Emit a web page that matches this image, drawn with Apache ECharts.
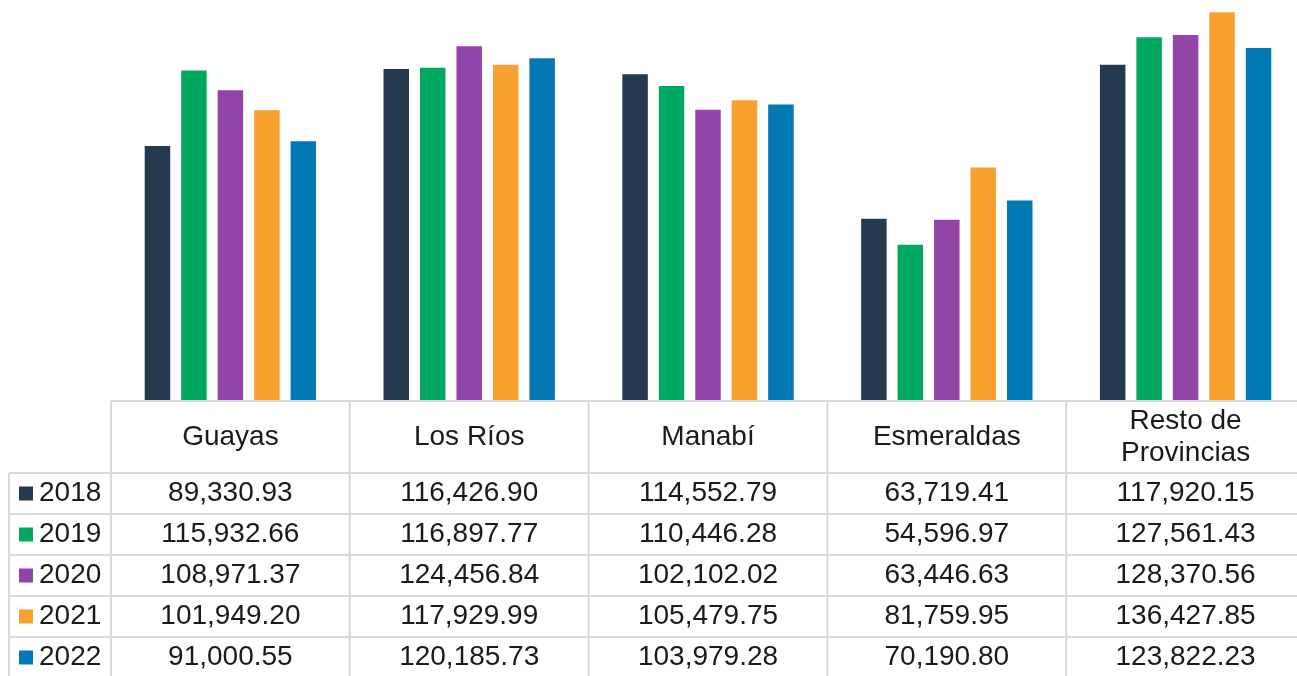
<!DOCTYPE html>
<html lang="es">
<head>
<meta charset="UTF-8">
<title>Provincias</title>
<script src="https://cdn.jsdelivr.net/npm/echarts@6/dist/echarts.min.js"></script>
<style>
  html, body { margin: 0; padding: 0; background: #fff; }
</style>
</head>
<body>
<div id="main" style="width:1297px;height:676px;"></div>
<script type="text/javascript">
// categorias y valores por año
var categories = ['Guayas', 'Los Ríos', 'Manabí', 'Esmeraldas', 'Resto de\nProvincias'];
var years = ['2018', '2019', '2020', '2021', '2022'];
var v2018 = [89330.93, 116426.90, 114552.79, 63719.41, 117920.15];
var v2019 = [115932.66, 116897.77, 110446.28, 54596.97, 127561.43];
var v2020 = [108971.37, 124456.84, 102102.02, 63446.63, 128370.56];
var v2021 = [101949.20, 117929.99, 105479.75, 81759.95, 136427.85];
var v2022 = [91000.55, 120185.73, 103979.28, 70190.80, 123822.23];
var allValues = [v2018, v2019, v2020, v2021, v2022];
var colors = ['#253a4f', '#00a862', '#9245a9', '#f9a12e', '#0279b5'];

var font = '"Liberation Sans", Arial, Helvetica, sans-serif';
var lineColor = '#d9d9d9';
var tableTop = 401, headerBottom = 473, rowH = 41, tableLeft = 9;

function fmt(n) {
    var parts = n.toFixed(2).split('.');
    parts[0] = parts[0].replace(/\B(?=(\d{3})+(?!\d))/g, ',');
    return parts.join('.');
}

var myChart = echarts.init(document.getElementById('main'));

var series = [];
for (var i = 0; i < years.length; i++) {
    series.push({
        name: years[i],
        type: 'bar',
        data: allValues[i],
        barWidth: 25.5,
        barGap: '43%',
        itemStyle: { color: colors[i] }
    });
}

var option = {
    animation: false,
    grid: { left: 111, top: 2, width: 1194, bottom: 676 - 400, outerBoundsMode: 'none', containLabel: false },
    xAxis: {
        type: 'category',
        data: categories,
        axisLine: { show: false },
        axisTick: { show: false },
        axisLabel: {
            margin: 37,
            verticalAlign: 'middle',
            fontFamily: font,
            fontSize: 28,
            lineHeight: 32,
            color: '#1a1a1a',
            interval: 0
        }
    },
    yAxis: {
        type: 'value',
        min: 0,
        max: 140000,
        show: false,
        splitLine: { show: false }
    },
    series: series
};
myChart.setOption(option);

// tabla de datos debajo del grafico
var g = [];
var right = 1297;
// lineas horizontales
g.push({ type: 'line', shape: { x1: 111, y1: tableTop, x2: right, y2: tableTop }, style: { stroke: lineColor, lineWidth: 2 } });
for (var r = 0; r <= years.length; r++) {
    var y = headerBottom + r * rowH;
    g.push({ type: 'line', shape: { x1: tableLeft, y1: y, x2: right, y2: y }, style: { stroke: lineColor, lineWidth: 2 } });
}
// lineas verticales
g.push({ type: 'line', shape: { x1: tableLeft, y1: headerBottom, x2: tableLeft, y2: 676 }, style: { stroke: lineColor, lineWidth: 2 } });
var catW = myChart.convertToPixel({ xAxisIndex: 0 }, 1) - myChart.convertToPixel({ xAxisIndex: 0 }, 0);
for (var c = 0; c < categories.length; c++) {
    var xb = myChart.convertToPixel({ xAxisIndex: 0 }, c) - catW / 2;
    g.push({ type: 'line', shape: { x1: xb, y1: tableTop, x2: xb, y2: 676 }, style: { stroke: lineColor, lineWidth: 2 } });
}
// filas
for (var r = 0; r < years.length; r++) {
    var cy = headerBottom + r * rowH + rowH / 2;
    g.push({ type: 'rect', shape: { x: 19, y: cy - 7, width: 14, height: 14 }, style: { fill: colors[r] } });
    g.push({ type: 'text', x: 39, y: cy, style: { text: years[r], font: '28px ' + font, fill: '#1a1a1a', verticalAlign: 'middle', align: 'left' } });
    for (var c = 0; c < categories.length; c++) {
        var cx = myChart.convertToPixel({ xAxisIndex: 0 }, c);
        g.push({ type: 'text', x: cx, y: cy, style: { text: fmt(allValues[r][c]), font: '28px ' + font, fill: '#1a1a1a', verticalAlign: 'middle', align: 'center' } });
    }
}
myChart.setOption({ graphic: g });
</script>
</body>
</html>
